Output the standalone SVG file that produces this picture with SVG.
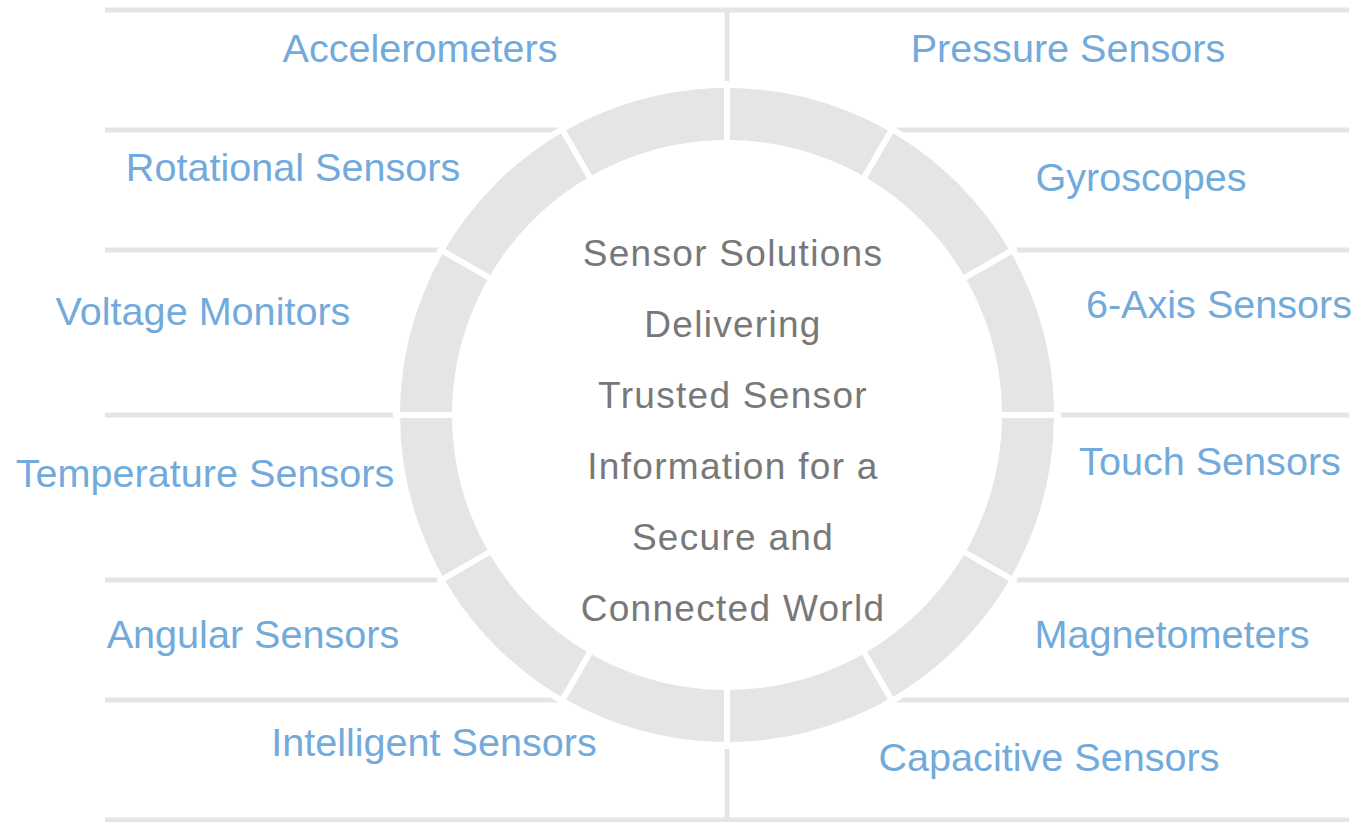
<svg xmlns="http://www.w3.org/2000/svg" width="1360" height="822" viewBox="0 0 1360 822">
  <style>
    .rule { stroke: #e5e5e5; stroke-width: 5; fill: none; }
    .label { font-family: "Liberation Sans", Arial, sans-serif; font-size: 39.6px; fill: #72aadb; text-anchor: middle; }
    .core { font-family: "Liberation Sans", Arial, sans-serif; font-size: 37px; fill: #787878; text-anchor: middle; letter-spacing: 1.3px; }
    .gap { stroke: #ffffff; stroke-width: 6; }
  </style>
  <rect x="0" y="0" width="1360" height="822" fill="#ffffff"/>

  <!-- grid rules behind the ring -->
  <g id="connectors">
    <line class="rule" x1="105" y1="10" x2="1349" y2="10"/>
    <line class="rule" x1="105" y1="130" x2="1349" y2="130"/>
    <line class="rule" x1="105" y1="250" x2="1349" y2="250"/>
    <line class="rule" x1="105" y1="415" x2="1349" y2="415"/>
    <line class="rule" x1="105" y1="580" x2="1349" y2="580"/>
    <line class="rule" x1="105" y1="700" x2="1349" y2="700"/>
    <line class="rule" x1="105" y1="820" x2="1349" y2="820"/>
    <line class="rule" x1="727" y1="10" x2="727" y2="820" stroke-width="6"/>
  </g>

  <!-- segmented ring -->
  <g id="ring">
    <circle cx="727" cy="415" r="333" fill="#ffffff"/>
    <circle cx="727" cy="415" r="301" fill="none" stroke="#e5e5e5" stroke-width="52"/>
    <g transform="translate(727 415)">
      <line class="gap" x1="0" y1="-270" x2="0" y2="-334" transform="rotate(0)"/>
      <line class="gap" x1="0" y1="-270" x2="0" y2="-334" transform="rotate(30)"/>
      <line class="gap" x1="0" y1="-270" x2="0" y2="-334" transform="rotate(60)"/>
      <line class="gap" x1="0" y1="-270" x2="0" y2="-334" transform="rotate(90)"/>
      <line class="gap" x1="0" y1="-270" x2="0" y2="-334" transform="rotate(120)"/>
      <line class="gap" x1="0" y1="-270" x2="0" y2="-334" transform="rotate(150)"/>
      <line class="gap" x1="0" y1="-270" x2="0" y2="-334" transform="rotate(180)"/>
      <line class="gap" x1="0" y1="-270" x2="0" y2="-334" transform="rotate(210)"/>
      <line class="gap" x1="0" y1="-270" x2="0" y2="-334" transform="rotate(240)"/>
      <line class="gap" x1="0" y1="-270" x2="0" y2="-334" transform="rotate(270)"/>
      <line class="gap" x1="0" y1="-270" x2="0" y2="-334" transform="rotate(300)"/>
      <line class="gap" x1="0" y1="-270" x2="0" y2="-334" transform="rotate(330)"/>
    </g>
  </g>

  <g id="center">
    <text class="core" x="733" y="266">Sensor Solutions</text>
    <text class="core" x="733" y="337">Delivering</text>
    <text class="core" x="733" y="408">Trusted Sensor</text>
    <text class="core" x="733" y="479">Information for a</text>
    <text class="core" x="733" y="550">Secure and</text>
    <text class="core" x="733" y="621">Connected World</text>
  </g>

  <g id="accelerometers"><text class="label" x="420" y="62">Accelerometers</text></g>
  <g id="pressure-sensors"><text class="label" x="1068" y="62">Pressure Sensors</text></g>
  <g id="rotational-sensors"><text class="label" x="293" y="181">Rotational Sensors</text></g>
  <g id="gyroscopes"><text class="label" x="1141" y="191">Gyroscopes</text></g>
  <g id="voltage-monitors"><text class="label" x="203" y="325">Voltage Monitors</text></g>
  <g id="six-axis-sensors"><text class="label" x="1219" y="318">6-Axis Sensors</text></g>
  <g id="temperature-sensors"><text class="label" x="205" y="487">Temperature Sensors</text></g>
  <g id="touch-sensors"><text class="label" x="1210" y="475">Touch Sensors</text></g>
  <g id="angular-sensors"><text class="label" x="253" y="648">Angular Sensors</text></g>
  <g id="magnetometers"><text class="label" x="1172" y="648">Magnetometers</text></g>
  <g id="intelligent-sensors"><text class="label" x="434" y="756">Intelligent Sensors</text></g>
  <g id="capacitive-sensors"><text class="label" x="1049" y="771">Capacitive Sensors</text></g>
</svg>
